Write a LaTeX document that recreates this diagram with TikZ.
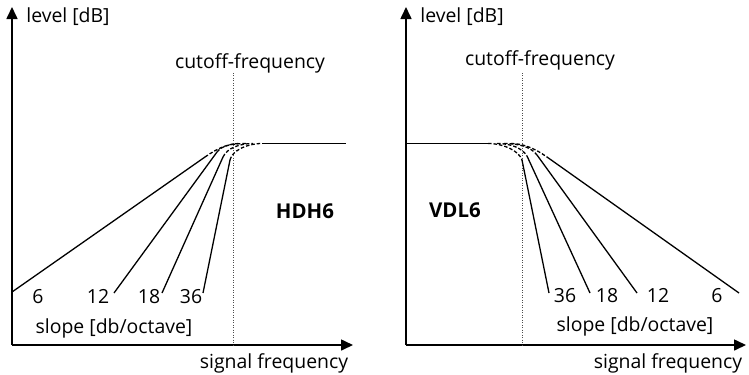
\documentclass[tikz,border=0pt]{standalone}
\usepackage{fontspec}
\setmainfont{Open Sans}
\usetikzlibrary{arrows.meta}
\begin{document}
\begin{tikzpicture}[x=1bp,y=-1bp,
  axis/.style={line width=1.6bp,-{Triangle[length=12bp,width=11bp]}},
  curve/.style={line width=1.3bp},
  dashcurve/.style={line width=1.3bp,dash pattern=on 3.5bp off 2bp},
  cutline/.style={line width=0.5bp,dotted,black!70},
  lbl/.style={anchor=base,inner sep=0pt,font=\fontsize{19.5}{21}\selectfont},
  blbl/.style={lbl,font=\fontsize{20.5}{22}\selectfont\bfseries}]
\useasboundingbox (0,0) rectangle (749,374);
% ---------- left panel (HDH6) ----------
\coordinate (LO) at (12,345);
\coordinate (LY) at (12,7);
\coordinate (LX) at (353,345);
\draw[axis] (LO) -- (LY);
\draw[axis] (LO) -- (LX);
\coordinate (LCt) at (233,73);
\coordinate (LCb) at (233,345);
\draw[cutline] (LCt) -- (LCb);
\coordinate (LPa) at (262,143.5);
\coordinate (LPb) at (346,143.5);
\draw[curve] (LPa) -- (LPb);
% slopes
\coordinate (L6a) at (12,292);   \coordinate (L6b) at (205,157);
\coordinate (L12a) at (114,293); \coordinate (L12b) at (217,152);
\coordinate (L18a) at (162,293); \coordinate (L18b) at (223,157);
\coordinate (L36a) at (203,293); \coordinate (L36b) at (230,160);
\draw[curve] (L6a) -- (L6b);
\draw[curve] (L12a) -- (L12b);
\draw[curve] (L18a) -- (L18b);
\draw[curve] (L36a) -- (L36b);
\draw[dashcurve] (L6b) .. controls (218,148) and (228,143.5) .. (240,143.5);
\draw[dashcurve] (L12b) .. controls (222,145) and (234,143.5) .. (246,143.5);
\draw[dashcurve] (L18b) .. controls (227,148) and (240,143.5) .. (253,143.5);
\draw[dashcurve] (L36b) .. controls (232,151) and (246,143.5) .. (LPa);
% labels
\node[lbl] (Llev) at (68,22) {level [dB]};
\node[lbl] (Lcut) at (250,68) {cutoff-frequency};
\node[lbl] (Lsig) at (274,368) {signal frequency};
\node[blbl] (Lname) at (305,218) {HDH6};
\node[lbl] (Lslope) at (114,333) {slope [db/octave]};
\node[lbl] (Ln6) at (38,303) {6};
\node[lbl] (Ln12) at (98,303) {12};
\node[lbl] (Ln18) at (149,303) {18};
\node[lbl] (Ln36) at (191,303) {36};
% ---------- right panel (VDL6) ----------
\coordinate (RO) at (406,345);
\coordinate (RY) at (406,7);
\coordinate (RX) at (746,345);
\draw[axis] (RO) -- (RY);
\draw[axis] (RO) -- (RX);
\coordinate (RCt) at (522,73);
\coordinate (RCb) at (522,345);
\draw[cutline] (RCt) -- (RCb);
\coordinate (RPa) at (406,143.5);
\coordinate (RPb) at (488,143.5);
\draw[curve] (RPa) -- (RPb);
\coordinate (R36a) at (522,160); \coordinate (R36b) at (549,293);
\coordinate (R18a) at (527,156); \coordinate (R18b) at (590,293);
\coordinate (R12a) at (537,155); \coordinate (R12b) at (637,293);
\coordinate (R6a) at (547,157);  \coordinate (R6b) at (739,293);
\draw[curve] (R36a) -- (R36b);
\draw[curve] (R18a) -- (R18b);
\draw[curve] (R12a) -- (R12b);
\draw[curve] (R6a) -- (R6b);
\draw[dashcurve] (RPb) .. controls (504,143.5) and (519,151) .. (R36a);
\draw[dashcurve] (497,143.5) .. controls (511,143.5) and (522,148) .. (R18a);
\draw[dashcurve] (504,143.5) .. controls (519,143.5) and (531,147) .. (R12a);
\draw[dashcurve] (511,143.5) .. controls (525,143.5) and (537,150) .. (R6a);
\node[lbl] (Rlev) at (462,22) {level [dB]};
\node[lbl] (Rcut) at (540,65) {cutoff-frequency};
\node[lbl] (Rsig) at (668,368) {signal frequency};
\node[blbl] (Rname) at (455,217) {VDL6};
\node[lbl] (Rslope) at (635,331) {slope [db/octave]};
\node[lbl] (Rn36) at (565,302) {36};
\node[lbl] (Rn18) at (607,302) {18};
\node[lbl] (Rn12) at (658,302) {12};
\node[lbl] (Rn6) at (717,302) {6};
\end{tikzpicture}
\end{document}
